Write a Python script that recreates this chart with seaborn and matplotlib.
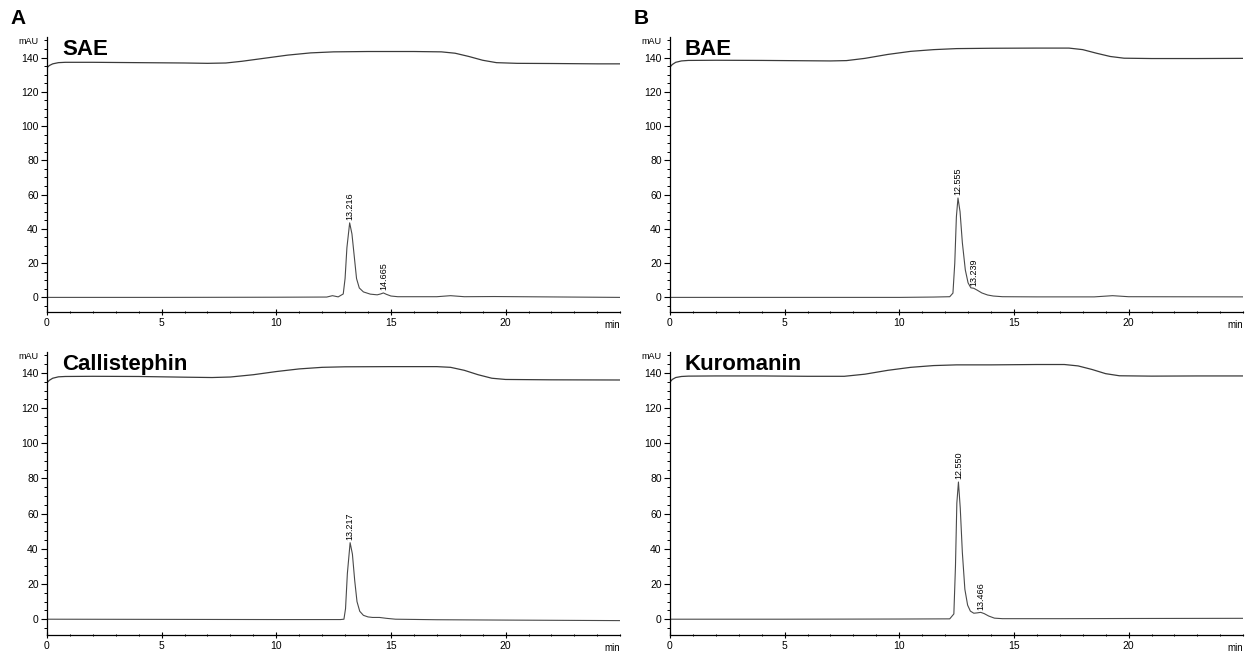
import pandas as pd
import matplotlib
matplotlib.use("Agg")
import matplotlib.pyplot as plt
from matplotlib.ticker import MultipleLocator
import seaborn as sns

# Chromatogram traces (time in min, signal in mAU)

# A, top: SAE
sae_grad_t = [0, 0.1, 0.25, 0.5, 0.8, 2, 4, 6, 7, 7.8, 8.5, 9.5, 10.5, 11.5, 12.5,
              14, 16, 17.2, 17.8, 18.4, 19.0, 19.6, 20.5, 22, 24, 25]
sae_grad_v = [134, 135.3, 136.3, 137, 137.2, 137.2, 137, 136.8, 136.6, 136.8, 137.8,
              139.6, 141.4, 142.7, 143.3, 143.5, 143.5, 143.3, 142.5, 140.6, 138.4,
              137, 136.6, 136.5, 136.3, 136.3]
sae_sig_t = [0, 5, 10, 12.2, 12.45, 12.7, 12.92, 13.0, 13.08, 13.2, 13.3, 13.4,
             13.5, 13.62, 13.8, 14.1, 14.4, 14.55, 14.67, 14.8, 15.0, 15.3, 17.0,
             17.6, 18.2, 19.5, 25]
sae_sig_v = [0, 0, 0.1, 0.2, 1.0, 0.3, 2, 11, 29, 43.5, 37, 24, 11, 5.5, 3.2, 1.9,
             1.5, 2.0, 2.6, 1.8, 0.8, 0.4, 0.4, 1.0, 0.4, 0.5, 0]

# A, bottom: Callistephin
cal_grad_t = [0, 0.1, 0.25, 0.5, 0.8, 2, 4, 6, 7.2, 8, 9, 10, 11, 12, 13, 15, 17,
              17.6, 18.2, 18.8, 19.4, 20, 22, 25]
cal_grad_v = [134.4, 135.8, 137, 137.8, 138, 138.1, 138, 137.6, 137.4, 137.7, 139,
              140.8, 142.3, 143.2, 143.5, 143.6, 143.6, 143.2, 141.5, 139, 137,
              136.3, 136.1, 136]
cal_sig_t = [0, 5, 10, 12.8, 12.95, 13.02, 13.1, 13.22, 13.32, 13.42, 13.52, 13.64,
             13.8, 14.0, 14.2, 14.5, 14.8, 15.2, 17, 20, 25]
cal_sig_v = [0, -0.1, -0.2, -0.2, 0, 6, 26, 43.5, 37, 22, 10, 4.5, 2.2, 1.3, 1.0,
             1.0, 0.5, 0, -0.3, -0.5, -0.8]

# B, top: BAE
bae_grad_t = [0, 0.1, 0.25, 0.5, 0.8, 2, 4, 6, 7, 7.7, 8.5, 9.5, 10.5, 11.5, 12.5,
              14, 16, 17.4, 18.0, 18.6, 19.2, 19.8, 21, 23, 25]
bae_grad_v = [134.4, 135.9, 137.2, 138, 138.3, 138.4, 138.3, 138.1, 138, 138.2,
              139.5, 141.8, 143.6, 144.6, 145.2, 145.4, 145.5, 145.5, 144.6, 142.5,
              140.6, 139.6, 139.4, 139.4, 139.5]
bae_sig_t = [0, 5, 10, 11.5, 12.2, 12.34, 12.42, 12.49, 12.56, 12.65, 12.75, 12.88,
             13.0, 13.12, 13.25, 13.4, 13.6, 13.85, 14.1, 14.5, 16, 18.5, 19.3, 20, 25]
bae_sig_v = [0, 0, 0, 0.2, 0.4, 2.5, 20, 47, 58, 50, 32, 16, 8.5, 5.6, 5.3, 4.2, 2.6,
             1.4, 0.8, 0.4, 0.3, 0.3, 1.0, 0.4, 0.3]

# B, bottom: Kuromanin
kur_grad_t = [0, 0.1, 0.25, 0.5, 0.8, 2, 4, 6, 7.6, 8.5, 9.5, 10.5, 11.5, 12.5, 14,
              16, 17.2, 17.8, 18.4, 19.0, 19.6, 21, 23, 25]
kur_grad_v = [134.8, 136.3, 137.4, 138, 138.2, 138.3, 138.3, 138.1, 138.1, 139.3,
              141.5, 143.2, 144.2, 144.6, 144.6, 144.8, 144.8, 144.0, 142, 139.6,
              138.4, 138.2, 138.3, 138.3]
kur_sig_t = [0, 5, 10, 12.2, 12.38, 12.45, 12.51, 12.58, 12.66, 12.75, 12.86, 12.98,
             13.1, 13.25, 13.4, 13.55, 13.7, 13.9, 14.15, 14.5, 17, 20, 25]
kur_sig_v = [0, 0, 0.1, 0.2, 3, 30, 66, 78, 63, 38, 17, 8, 4.6, 3.4, 3.6, 3.9, 3.2,
             1.8, 0.6, 0.3, 0.3, 0.4, 0.5]

# peak labels: (apex time, apex height, retention time text)
sae_peaks = [(13.2, 43.5, "13.216"), (14.67, 2.6, "14.665")]
cal_peaks = [(13.22, 43.5, "13.217")]
bae_peaks = [(12.56, 58, "12.555"), (13.25, 5.3, "13.239")]
kur_peaks = [(12.58, 78, "12.550"), (13.55, 3.9, "13.466")]

panels = [
    ("SAE", sae_grad_t, sae_grad_v, sae_sig_t, sae_sig_v, sae_peaks),
    ("BAE", bae_grad_t, bae_grad_v, bae_sig_t, bae_sig_v, bae_peaks),
    ("Callistephin", cal_grad_t, cal_grad_v, cal_sig_t, cal_sig_v, cal_peaks),
    ("Kuromanin", kur_grad_t, kur_grad_v, kur_sig_t, kur_sig_v, kur_peaks),
]

sns.set_theme(style="ticks")
plt.rcParams["font.family"] = ["Liberation Sans", "DejaVu Sans"]
plt.rcParams["text.color"] = "black"
plt.rcParams["xtick.color"] = "black"
plt.rcParams["ytick.color"] = "black"
plt.rcParams["axes.edgecolor"] = "black"

fig = plt.figure(figsize=(12.49, 6.54), dpi=100)

# axes rectangles (figure fraction)
lefts = [0.0376, 0.5364]
width = 0.459
rows = [(0.523, 0.4205), (0.029, 0.433)]

for i, (name, gt, gv, st, sv, peaks) in enumerate(panels):
    row, col = divmod(i, 2)
    bottom, height = rows[row]
    ax = fig.add_axes([lefts[col], bottom, width, height])

    grad = pd.DataFrame({"t": gt, "mAU": gv})
    sig = pd.DataFrame({"t": st, "mAU": sv})
    sns.lineplot(data=grad, x="t", y="mAU", ax=ax, color="#3a3a3a", lw=0.9)
    sns.lineplot(data=sig, x="t", y="mAU", ax=ax, color="#4a4a4a", lw=0.8)

    for pt, ph, txt in peaks:
        ax.annotate(txt, xy=(pt, ph), xytext=(0, 2), textcoords="offset points",
                    rotation=90, ha="center", va="bottom", fontsize=6.5)

    ax.set_xlim(0, 25)
    ax.set_ylim(-8.5 if row == 0 else -9, 152)
    ax.xaxis.set_minor_locator(MultipleLocator(1))
    ax.set_xticks(range(0, 21, 5))
    ax.yaxis.set_minor_locator(MultipleLocator(5))
    ax.set_yticks(range(0, 141, 20))
    ax.set_xlabel("")
    ax.set_ylabel("")
    sns.despine(ax=ax)
    for s in ("left", "bottom"):
        ax.spines[s].set_linewidth(0.9)
    ax.tick_params(which="major", length=4, width=0.8, labelsize=7.5, pad=2)
    ax.tick_params(which="minor", length=2, width=0.7)
    ax.tick_params(axis="x", which="both", direction="inout")

    ax.annotate("mAU", xy=(0, 0.985), xycoords="axes fraction", xytext=(-6, 0),
                textcoords="offset points", ha="right", va="center", fontsize=6.5)
    ax.annotate("min", xy=(1, 0), xycoords="axes fraction", xytext=(-6, -6),
                textcoords="offset points", ha="center", va="top", fontsize=7)
    ax.text(0.026, 0.935, name, transform=ax.transAxes, fontsize=16,
            fontweight="bold", ha="left", va="baseline")

fig.text(0.008, 0.963, "A", fontsize=15, fontweight="bold", ha="left", va="baseline")
fig.text(0.507, 0.963, "B", fontsize=15, fontweight="bold", ha="left", va="baseline")

fig.savefig("out.png", dpi=100, facecolor="white")
